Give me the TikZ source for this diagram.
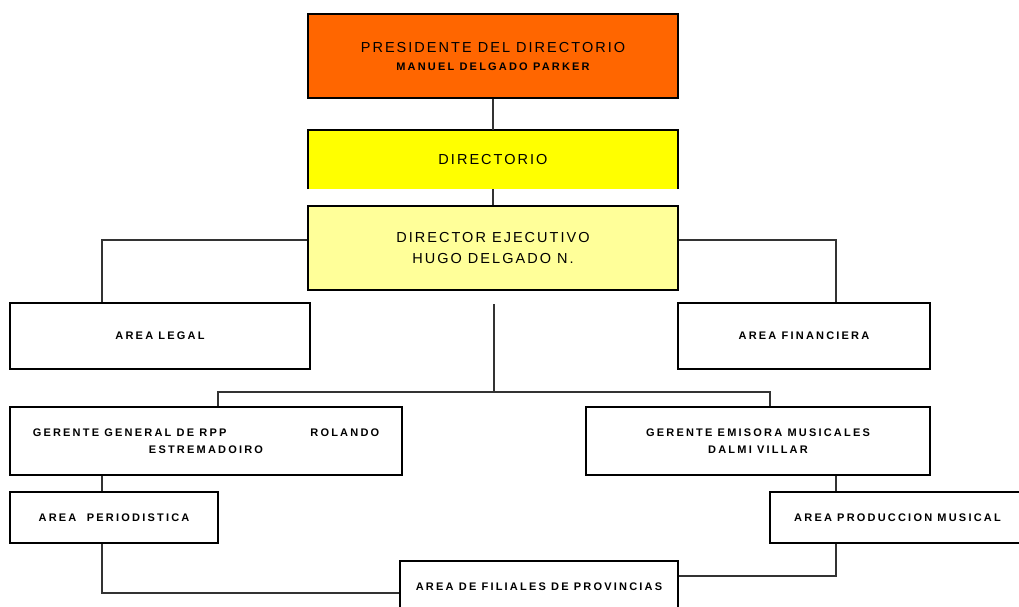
\documentclass[tikz,border=0pt]{standalone}
\usepackage{fontspec}
\setmainfont{Liberation Sans}
\newfontfamily\bigf[LetterSpace=14]{Liberation Sans}
\newfontfamily\smallf[LetterSpace=20]{Liberation Sans Bold}
\begin{document}
\begin{tikzpicture}[x=1pt,y=-1pt,
  box/.style={draw=black,line width=2pt,rectangle,inner sep=0pt,align=center},
  conn/.style={draw=black!80,line width=1.1pt},
  bigt/.style={font=\bigf\fontsize{14.5}{21}\selectfont},
  smallt/.style={font=\smallf\fontsize{11}{17}\selectfont}]
\path[use as bounding box] (0,0) rectangle (1019,607);
\clip (0,0) rectangle (1019,607);
\fill[white] (0,0) rectangle (1019,607);
% top chain
\node[box,fill={rgb,255:red,255;green,102;blue,0},minimum width=370pt,minimum height=84pt,bigt] (pres) at (493,56)
  {PRESIDENTE DEL DIRECTORIO\\[-3pt]{\smallf\fontsize{11}{14}\selectfont MANUEL DELGADO PARKER}};
\node[rectangle,fill={rgb,255:red,255;green,255;blue,0},inner sep=0pt,minimum width=370pt,minimum height=59pt,bigt] (dir) at (493,159.5) {DIRECTORIO};
\draw[line width=2pt] (dir.south west) -- (dir.north west) -- (dir.north east) -- (dir.south east);
\node[box,fill={rgb,255:red,255;green,255;blue,153},minimum width=370pt,minimum height=84pt,bigt] (ejec) at (493,248)
  {DIRECTOR EJECUTIVO\\HUGO DELGADO N.};
% areas
\node[box,minimum width=300pt,minimum height=66pt,smallt] (legal) at (160,336) {AREA LEGAL};
\node[box,minimum width=252pt,minimum height=66pt,smallt] (fin) at (804,336) {AREA FINANCIERA};
\node[box,minimum width=392pt,minimum height=68pt,smallt] (rpp) at (206,441)
  {GERENTE GENERAL DE RPP\hspace{84pt}ROLANDO\\ESTREMADOIRO};
\node[box,minimum width=344pt,minimum height=68pt,smallt] (emis) at (758,441)
  {GERENTE EMISORA MUSICALES\\DALMI VILLAR};
\node[box,minimum width=208pt,minimum height=51pt,smallt] (peri) at (114,517.5) {AREA\ \ PERIODISTICA};
\node[box,minimum width=255pt,minimum height=51pt,smallt] (prod) at (897.5,517.5) {AREA PRODUCCION MUSICAL};
\node[box,minimum width=278pt,minimum height=54pt,smallt] (fil) at (539,588) {\raisebox{3pt}{AREA DE FILIALES DE PROVINCIAS}};
% connectors
\draw[conn] (pres.south) -- (dir.north);
\draw[conn] (dir.south) -- (ejec.north);
\draw[conn] ([yshift=8pt]ejec.west) -| ([xshift=93pt]legal.north west);
\draw[conn] ([yshift=8pt]ejec.east) -| ([xshift=159pt]fin.north west);
\coordinate (trunk) at (494,304);
\coordinate (bus) at (494,392);
\draw[conn] (trunk) -- (bus);
\draw[conn] ([xshift=12pt]rpp.north) |- (bus) -| ([xshift=12pt]emis.north);
\draw[conn] ([xshift=93pt]rpp.south west) -- ([xshift=93pt]peri.north west);
\draw[conn] ([xshift=251pt]emis.south west) -- ([xshift=67pt]prod.north west);
\draw[conn] ([xshift=93pt]peri.south west) |- ([yshift=-5pt]fil.west);
\draw[conn] ([xshift=67pt]prod.south west) |- ([yshift=12pt]fil.east);
\end{tikzpicture}
\end{document}
